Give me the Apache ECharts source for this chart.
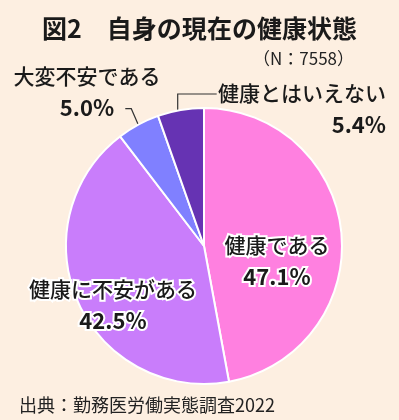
<!DOCTYPE html>
<html>
<head>
<meta charset="utf-8">
<script src="https://cdn.jsdelivr.net/npm/echarts@6/dist/echarts.min.js"></script>
<style>
  html, body { margin: 0; padding: 0; background: #fdefe1; }
  #main { width: 399px; height: 420px; }
</style>
</head>
<body>
<div id="main"></div>
<script>
// 図2 自身の現在の健康状態 (N:7558)
const categories = ['健康である', '健康に不安がある', '大変不安である', '健康とはいえない'];
const values = [47.1, 42.5, 5.0, 5.4];
const sliceColors = ['#ff80e0', '#c97dfb', '#8080ff', '#6633b3'];

const FONT = '"Noto Sans CJK JP", "Noto Sans", sans-serif';

// 内側ラベルは白フチ付き
const innerLabel = {
  position: 'inside',
  textBorderColor: '#fff',
  textBorderWidth: 4
};
const outerLabel = {
  position: 'outside',
  overflow: 'none',
  width: 220
};

const chart = echarts.init(document.getElementById('main'), null, { renderer: 'canvas' });

const option = {
  backgroundColor: '#fdefe1',
  title: [
    {
      text: '図2　自身の現在の健康状態',
      left: 'center',
      top: 11,
      textStyle: { fontFamily: FONT, fontSize: 25, fontWeight: 'bold', color: '#1a1a1a' }
    },
    {
      text: '（N：7558）',
      right: 40,
      top: 45,
      textStyle: { fontFamily: FONT, fontSize: 17, fontWeight: 'normal', color: '#222' }
    },
    {
      text: '出典：勤務医労働実態調査2022',
      left: 14,
      top: 391,
      textStyle: { fontFamily: FONT, fontSize: 18, fontWeight: 'normal', color: '#222' }
    }
  ],
  series: [{
    type: 'pie',
    center: [204, 246],
    radius: 138,
    startAngle: 90,
    clockwise: true,
    animation: false,
    itemStyle: { borderColor: '#fff', borderWidth: 2 },
    label: {
      fontFamily: FONT,
      color: '#1a1a1a',
      formatter: function (p) {
        return '{n|' + p.name + '}\n{v|' + p.value.toFixed(1) + '%}';
      },
      rich: {
        n: { fontFamily: FONT, fontSize: 21, fontWeight: 500, lineHeight: 31, color: '#1a1a1a' },
        v: { fontFamily: FONT, fontSize: 22, fontWeight: 'bold', lineHeight: 31, color: '#1a1a1a' }
      }
    },
    labelLine: {
      show: true,
      lineStyle: { color: '#333', width: 1.2 }
    },
    labelLayout: function (p) {
      const i = p.dataIndex;
      const e = p.labelLinePoints ? p.labelLinePoints[0] : null;
      if (i === 0) return { x: 277, y: 261, align: 'center', verticalAlign: 'middle' };
      if (i === 1) return { x: 113, y: 305, align: 'center', verticalAlign: 'middle' };
      if (i === 2) {
        const r = { x: 87, y: 92, align: 'center', verticalAlign: 'middle' };
        if (e) r.labelLinePoints = [[e[0], e[1]], [e[0] - 7, e[1] - 16], [e[0] - 13, e[1] - 16]];
        return r;
      }
      const r = { x: 386, y: 109, align: 'right', verticalAlign: 'middle' };
      if (e) r.labelLinePoints = [[e[0] - 3, e[1]], [e[0] - 3, e[1] - 16], [e[0] + 36, e[1] - 16]];
      return r;
    },
    data: categories.map(function (name, i) {
      const small = i >= 2;
      return {
        name: name,
        value: values[i],
        itemStyle: { color: sliceColors[i] },
        label: small ? outerLabel : innerLabel,
        labelLine: { show: small }
      };
    })
  }]
};

chart.setOption(option);
</script>
</body>
</html>
